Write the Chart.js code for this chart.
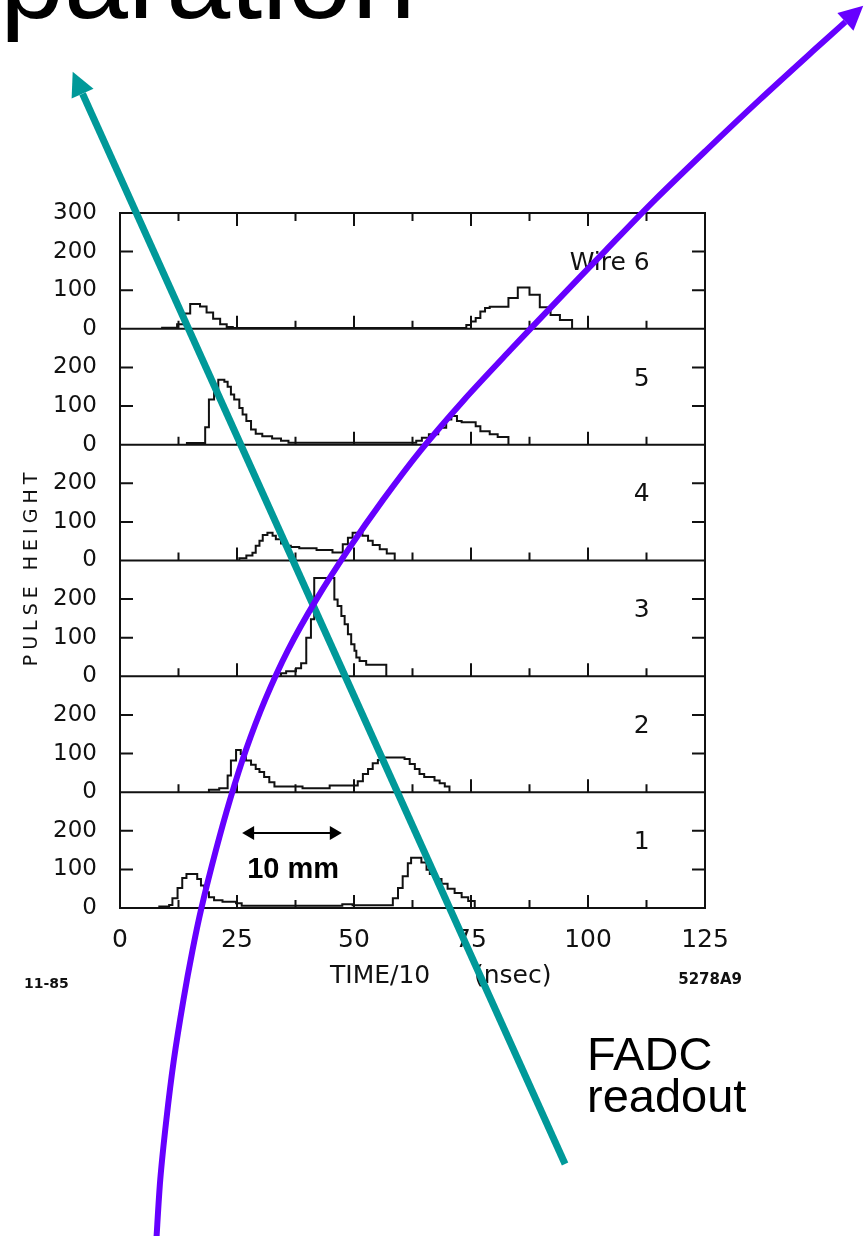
<!DOCTYPE html>
<html>
<head>
<meta charset="utf-8">
<title>FADC readout - pulse height vs time</title>
<script src="https://cdn.jsdelivr.net/npm/chart.js@4.4.0/dist/chart.umd.min.js"></script>
<style>
  html, body { margin: 0; padding: 0; background: #fff; }
  #wrap { width: 865px; height: 1236px; position: relative; }
</style>
</head>
<body>
<div id="wrap"><canvas id="fadc" width="865" height="1236"></canvas></div>
<script>
// axes: TIME/10 (nsec) along x, one 0..300 pulse height panel per wire
const timeTicks = [0, 25, 50, 75, 100, 125];
const heightTicks = [0, 100, 200, 300];
const wireNames = ["1", "2", "3", "4", "5", "Wire 6"];

// FADC traces, [time, pulse height]
const wire1 = [[8.4,0],[8.4,4],[10.5,8],[11.2,25],[12.3,52],[13.3,78],[14.2,88],[16.5,75],[17.3,58],[18,41],[19,28],[20.1,20],[21.9,16],[24.8,12],[26,6],[47.5,10],[49.7,7],[58.3,25],[59.4,52],[60.4,82],[61.5,116],[62.2,130],[64.4,118],[65.5,99],[66.2,88],[67.2,75],[68.7,63],[70,50],[71.5,39],[73,28],[74.4,18],[75.8,0]];
const wire2 = [[19,0],[19,6],[21.2,10],[23,43],[23.7,82],[24.8,109],[25.8,99],[26.9,82],[28,71],[29,60],[29.8,52],[30.8,39],[31.9,26],[33,15],[39,10],[44.8,17],[50.8,28],[51.9,47],[53,60],[54,75],[55.1,83],[56.5,90],[60.8,86],[61.9,73],[63,60],[64,47],[65,39],[67.2,30],[68.3,23],[69.4,15],[70.4,0]];
const wire3 = [[34.4,0],[34.4,8],[35.5,13],[37.6,21],[38.7,34],[39.8,100],[40.8,148],[41.5,255],[45.8,199],[46.5,182],[47.3,156],[48,135],[48.7,109],[49.4,83],[50.1,66],[50.5,49],[51.2,40],[52.6,30],[56.9,0]];
const wire4 = [[25.5,0],[25.5,6],[27,13],[28.3,20],[29,38],[29.8,51],[30.5,66],[31.5,72],[32.6,64],[33.3,55],[34.4,44],[35.5,38],[36.5,35],[38.3,32],[42,27],[45.4,21],[47.6,42],[48.7,59],[49.7,72],[51.8,64],[53,51],[54,40],[55.5,29],[57,18],[58.7,0]];
const wire5 = [[14.3,0],[14.3,4],[18.2,45],[19,117],[20.1,134],[21,168],[22.3,163],[23,150],[23.7,130],[24.4,117],[25.5,95],[26.2,78],[27,61],[28,39],[29,28],[30.4,22],[32.5,16],[34.4,10],[36,5],[63.3,10],[64.5,18],[66,27],[68,44],[69.7,65],[70.8,74],[72,61],[73,58],[76,48],[77,35],[79,27],[80.7,20],[83,0]];
const wire6 = [[9,0],[9,3],[12.2,12],[13.9,40],[15,64],[17.1,58],[18.5,42],[19.9,26],[21.4,12],[22.8,5],[24.1,2],[74,10],[75,19],[76,28],[77,45],[78,54],[79,57],[83,80],[85,107],[87.5,88],[89.7,56],[92,36],[94,23],[96.6,0]];
const wires = [wire1, wire2, wire3, wire4, wire5, wire6];

// the two drawn tracks, in time units and stacked height (300 per wire)
const trackStraight = [[95.1,-663],[-8.0,2109]];
const trackCurved = [[7.7,-873],[8.6,-704],[9.9,-549],[11.5,-394],[13.55,-238],[15.5,-109],[17.4,0],[20.5,150],[23.5,280],[26.9,409],[31.0,539],[35.9,668],[41.9,798],[48.7,927],[56.2,1057],[64.3,1186],[73.5,1316],[83.4,1445],[93.6,1575],[103.85,1704],[114.3,1834],[125.3,1963],[136.65,2093],[148.3,2222],[155.0,2295]];
// "10 mm" scale bar on wire 1
const scaleBar = [[26.1,194],[47.4,194]];

const panel = heightTicks[heightTicks.length - 1];
const tmax = timeTicks[timeTicks.length - 1];
const FIG_FONT = '"DejaVu Sans", sans-serif';
const SLIDE_FONT = '"Liberation Sans", Arial, sans-serif';

function pts(arr, off) {
  return arr.map(p => ({ x: p[0], y: p[1] + (off || 0) }));
}

function arrowHead(ctx, x, y, dx, dy, len, half) {
  const l = Math.hypot(dx, dy) || 1;
  const ux = dx / l, uy = dy / l;
  ctx.beginPath();
  ctx.moveTo(x + ux * len, y + uy * len);
  ctx.lineTo(x - uy * half, y + ux * half);
  ctx.lineTo(x + uy * half, y - ux * half);
  ctx.closePath();
  ctx.fill();
}

// frame, inward ticks, panel labels, axis titles
const panelFrame = {
  id: "panelFrame",
  beforeDatasetsDraw(chart) {
    const { ctx, chartArea: a, scales: { x, y } } = chart;
    const minor = (timeTicks[1] - timeTicks[0]) / 2;
    ctx.save();
    ctx.strokeStyle = "#111";
    ctx.lineWidth = 2;
    ctx.strokeRect(a.left, a.top, a.right - a.left, a.bottom - a.top);
    ctx.beginPath();
    for (let p = 0; p < wires.length; p++) {
      const base = y.getPixelForValue(p * panel);
      if (p > 0) { ctx.moveTo(a.left, base); ctx.lineTo(a.right, base); }
      for (let t = minor; t < tmax; t += minor) {
        const px = x.getPixelForValue(t);
        const len = (t % timeTicks[1] === 0) ? 13 : 8;
        ctx.moveTo(px, base); ctx.lineTo(px, base - len);
        if (p === wires.length - 1) { ctx.moveTo(px, a.top); ctx.lineTo(px, a.top + len); }
      }
      heightTicks.slice(1, -1).forEach(h => {
        const py = y.getPixelForValue(p * panel + h);
        ctx.moveTo(a.left, py); ctx.lineTo(a.left + 13, py);
        ctx.moveTo(a.right, py); ctx.lineTo(a.right - 13, py);
      });
    }
    ctx.stroke();

    ctx.fillStyle = "#111";
    ctx.textAlign = "right";
    ctx.textBaseline = "alphabetic";
    wireNames.forEach((name, p) => {
      ctx.font = "25px " + FIG_FONT;
      ctx.fillText(name, x.getPixelForValue(113.2), y.getPixelForValue(p * panel + 153));
    });

    // axis titles
    ctx.textAlign = "left";
    ctx.font = "25px " + FIG_FONT;
    ctx.fillText("TIME/10", 330, 983);
    ctx.fillText("(nsec)", 474, 983);
    ctx.font = "bold 14px " + FIG_FONT;
    ctx.fillText("11-85", 24, 988);
    ctx.textAlign = "right";
    ctx.font = "bold 15px " + FIG_FONT;
    ctx.fillText("5278A9", 742, 984);

    ctx.save();
    ctx.translate(37, 569);
    ctx.rotate(-Math.PI / 2);
    ctx.textAlign = "center";
    ctx.font = "19px " + FIG_FONT;
    ctx.letterSpacing = "5px";
    ctx.fillText("PULSE HEIGHT", 2, 0);
    ctx.restore();

    // scale bar
    const y0 = y.getPixelForValue(scaleBar[0][1]);
    const xa = x.getPixelForValue(scaleBar[0][0]);
    const xb = x.getPixelForValue(scaleBar[1][0]);
    ctx.fillStyle = "#000";
    ctx.strokeStyle = "#000";
    ctx.beginPath();
    ctx.moveTo(xa + 10, y0); ctx.lineTo(xb - 10, y0);
    ctx.stroke();
    arrowHead(ctx, xa + 12, y0, -1, 0, 12, 7);
    arrowHead(ctx, xb - 12, y0, 1, 0, 12, 7);
    ctx.textAlign = "center";
    ctx.font = "bold 29px " + SLIDE_FONT;
    ctx.fillText("10 mm", x.getPixelForValue(37), y.getPixelForValue(78));
    ctx.restore();
  },
  afterDatasetsDraw(chart) {
    const { ctx } = chart;
    ctx.save();
    chart.data.datasets.forEach((ds, i) => {
      if (!ds.arrowColor) return;
      const els = chart.getDatasetMeta(i).data;
      const last = els[els.length - 1], prev = els[els.length - 2];
      ctx.fillStyle = ds.arrowColor;
      arrowHead(ctx, last.x, last.y, last.x - prev.x, last.y - prev.y, 24, 12);
    });
    // slide text
    ctx.fillStyle = "#000";
    ctx.textAlign = "left";
    ctx.textBaseline = "alphabetic";
    ctx.font = "115px " + SLIDE_FONT;
    ctx.fillText("paration", 0, 18);
    ctx.font = "47px " + SLIDE_FONT;
    ctx.fillText("FADC", 587, 1070);
    ctx.fillText("readout", 587, 1112);
    ctx.restore();
  }
};

const datasets = [
  { label: "curved track", data: pts(trackCurved), borderColor: "#6600ff", borderWidth: 6,
    tension: 0.3, capBezierPoints: false, pointRadius: 0, clip: false, order: 0, arrowColor: "#6600ff" },
  { label: "straight track", data: pts(trackStraight), borderColor: "#009999", borderWidth: 7,
    pointRadius: 0, clip: false, order: 1, arrowColor: "#009999" }
];
wires.forEach((w, i) => {
  datasets.push({
    label: "Wire " + (i + 1),
    data: pts(w, i * panel),
    stepped: "before",
    borderColor: "#111",
    borderWidth: 2,
    pointRadius: 0,
    order: 2
  });
});

new Chart(document.getElementById("fadc"), {
  type: "line",
  data: { datasets: datasets },
  options: {
    responsive: false,
    animation: false,
    events: [],
    layout: { padding: { left: 0, right: 160, top: 213, bottom: 0 } },
    plugins: { legend: { display: false }, tooltip: { enabled: false } },
    scales: {
      x: {
        type: "linear",
        afterDataLimits: s => { s.min = timeTicks[0]; s.max = tmax; },
        afterFit: s => { s.height = 328; },
        ticks: { stepSize: timeTicks[1] - timeTicks[0], color: "#111", padding: 9,
                 font: { family: FIG_FONT, size: 25 }, maxRotation: 0 },
        grid: { display: false },
        border: { display: false }
      },
      y: {
        type: "linear",
        min: 0,
        max: panel * wires.length,
        afterFit: s => { s.width = 120; },
        ticks: {
          stepSize: heightTicks[1] - heightTicks[0],
          autoSkip: false,
          color: "#111",
          padding: 15,
          font: { family: FIG_FONT, size: 23 },
          callback: v => (v === panel * wires.length ? String(panel) : String(v % panel))
        },
        grid: { display: false },
        border: { display: false }
      }
    }
  },
  plugins: [panelFrame]
});
</script>
</body>
</html>
